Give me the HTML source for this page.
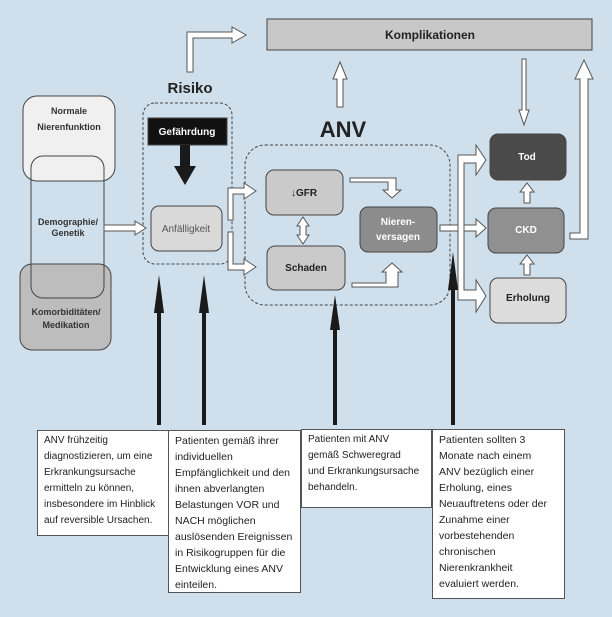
<!DOCTYPE html>
<html><head><meta charset="utf-8"><style>
body{margin:0;background:#cfe0ec;}
svg{display:block;font-family:"Liberation Sans",sans-serif;}
.tb{position:absolute;background:#fff;border:1px solid #555;font-family:"Liberation Sans",sans-serif;font-size:10.5px;line-height:16px;color:#222;padding:2px 6px;box-sizing:border-box;white-space:nowrap;}
</style></head><body>
<div style="position:relative;width:612px;height:617px;overflow:hidden;background:#cfe0ec">
<svg width="612" height="617" viewBox="0 0 612 617">
<g stroke="#444" stroke-width="1">
<rect x="267" y="19" width="325" height="31" fill="#c8c8c8"/>
<rect x="23" y="96" width="92" height="85" rx="14" fill="#f0f0f0"/>
<rect x="20" y="264" width="91" height="86" rx="12" fill="#bdbdbd"/>
<rect x="31" y="156" width="73" height="142" rx="12" fill="none"/>
<rect x="143" y="103" width="89" height="161" rx="12" fill="none" stroke-dasharray="3,2"/>
<rect x="245" y="145" width="205" height="160" rx="20" fill="none" stroke-dasharray="3,2"/>
<rect x="148" y="118" width="79" height="27" fill="#111"/>
<rect x="151" y="206" width="71" height="45" rx="8" fill="#d9d9d9"/>
<rect x="266" y="170" width="77" height="45" rx="8" fill="#cacaca"/>
<rect x="267" y="246" width="78" height="44" rx="8" fill="#cacaca"/>
<rect x="360" y="207" width="77" height="45" rx="8" fill="#8c8c8c"/>
<rect x="490" y="134" width="76" height="46" rx="8" fill="#4a4a4a"/>
<rect x="488" y="208" width="76" height="45" rx="8" fill="#909090"/>
<rect x="490" y="278" width="76" height="45" rx="8" fill="#dcdcdc"/>
</g>
<g fill="#fff" stroke="#555" stroke-width="1">
<path d="M187,72 V32 H232 V27 L246,35 L232,43 V38 H193 V72 Z"/>
<path d="M104,225 H135 V221 L146,228 L135,235 V231 H104 Z"/>
<path d="M228,220 V188 H244 V183 L256,191 L244,199 V194 H233 V220 Z"/>
<path d="M228,232 V270 H244 V275 L256,267 L244,259 V264 H233 V232 Z"/>
<path d="M297,226 L303,217 L309,226 H306 V235 H309 L303,244 L297,235 H300 V226 Z"/>
<path d="M350,178 H396 V190 H401 L392,198 L383,190 H388 V182 H350 Z"/>
<path d="M352,283 H386 V272 H382 L392,263 L402,272 H398 V287 H352 Z"/>
<path d="M440,225 H476 V219 L486,228 L476,237 V231 H440 Z"/>
<path d="M458,300 V155 H476 V145 L486,160 L476,175 V163 H464 V290 H476 V280 L486,296 L476,312 V300 Z"/>
<path d="M337,107 V79 H333 L340,62 L347,79 H343 V107 Z"/>
<path d="M522,59 V110 H519 L524,125 L529,110 H526 V59 Z"/>
<path d="M524,203 V192 H520 L527,183 L534,192 H530 V203 Z"/>
<path d="M524,275 V264 H520 L527,255 L534,264 H530 V275 Z"/>
<path d="M570,233 H580 V79 H575 L584,60 L593,79 H588 V239 H570 Z"/>
</g>
<g fill="#1a1a1a">
<path d="M180,145 H190 V166 H196 L185,185 L174,166 H180 Z"/>
<path d="M157,425 V313 H154 L159,275 L164,313 H161 V425 Z"/>
<path d="M202,425 V313 H199 L204,275 L209,313 H206 V425 Z"/>
<path d="M333,425 V330 H330 L335,295 L340,330 H337 V425 Z"/>
<path d="M451,425 V290 H448 L453,252 L458,290 H455 V425 Z"/>
</g>
<g text-anchor="middle" font-weight="bold">
<text x="430" y="39" font-size="12" fill="#222">Komplikationen</text>
<text x="190" y="93" font-size="15" fill="#222">Risiko</text>
<text x="343" y="137" font-size="22" fill="#222">ANV</text>
<text x="69" y="114" font-size="9" fill="#333">Normale</text>
<text x="69" y="130" font-size="9" fill="#333">Nierenfunktion</text>
<text x="68" y="225" font-size="9" fill="#333">Demographie/</text>
<text x="68" y="236" font-size="9" fill="#333">Genetik</text>
<text x="66" y="315" font-size="9" fill="#333">Komorbiditäten/</text>
<text x="66" y="328" font-size="9" fill="#333">Medikation</text>
<text x="187" y="135" font-size="10" fill="#fff">Gefährdung</text>
<text x="186" y="232" font-size="10" fill="#555" font-weight="normal">Anfälligkeit</text>
<text x="304" y="196" font-size="10" fill="#222">↓GFR</text>
<text x="306" y="271" font-size="10" fill="#222">Schaden</text>
<text x="398" y="225" font-size="10" fill="#fff">Nieren-</text>
<text x="398" y="240" font-size="10" fill="#fff">versagen</text>
<text x="527" y="160" font-size="10" fill="#fff">Tod</text>
<text x="526" y="233" font-size="10" fill="#fff">CKD</text>
<text x="528" y="301" font-size="10" fill="#222">Erholung</text>
</g>
</svg>
<div class="tb" style="left:37px;top:430px;width:132px;height:106px;font-size:10px">ANV frühzeitig<br>diagnostizieren, um eine<br>Erkrankungsursache<br>ermitteln zu können,<br>insbesondere im Hinblick<br>auf reversible Ursachen.</div>
<div class="tb" style="left:168px;top:430px;width:133px;height:163px">Patienten gemäß ihrer<br>individuellen<br>Empfänglichkeit und den<br>ihnen abverlangten<br>Belastungen VOR und<br>NACH möglichen<br>auslösenden Ereignissen<br>in Risikogruppen für die<br>Entwicklung eines ANV<br>einteilen.</div>
<div class="tb" style="left:301px;top:429px;width:131px;height:79px;font-size:10px">Patienten mit ANV<br>gemäß Schweregrad<br>und Erkrankungsursache<br>behandeln.</div>
<div class="tb" style="left:432px;top:429px;width:133px;height:170px">Patienten sollten 3<br>Monate nach einem<br>ANV bezüglich einer<br>Erholung, eines<br>Neuauftretens oder der<br>Zunahme einer<br>vorbestehenden<br>chronischen<br>Nierenkrankheit<br>evaluiert werden.</div>
</div>
</body></html>
